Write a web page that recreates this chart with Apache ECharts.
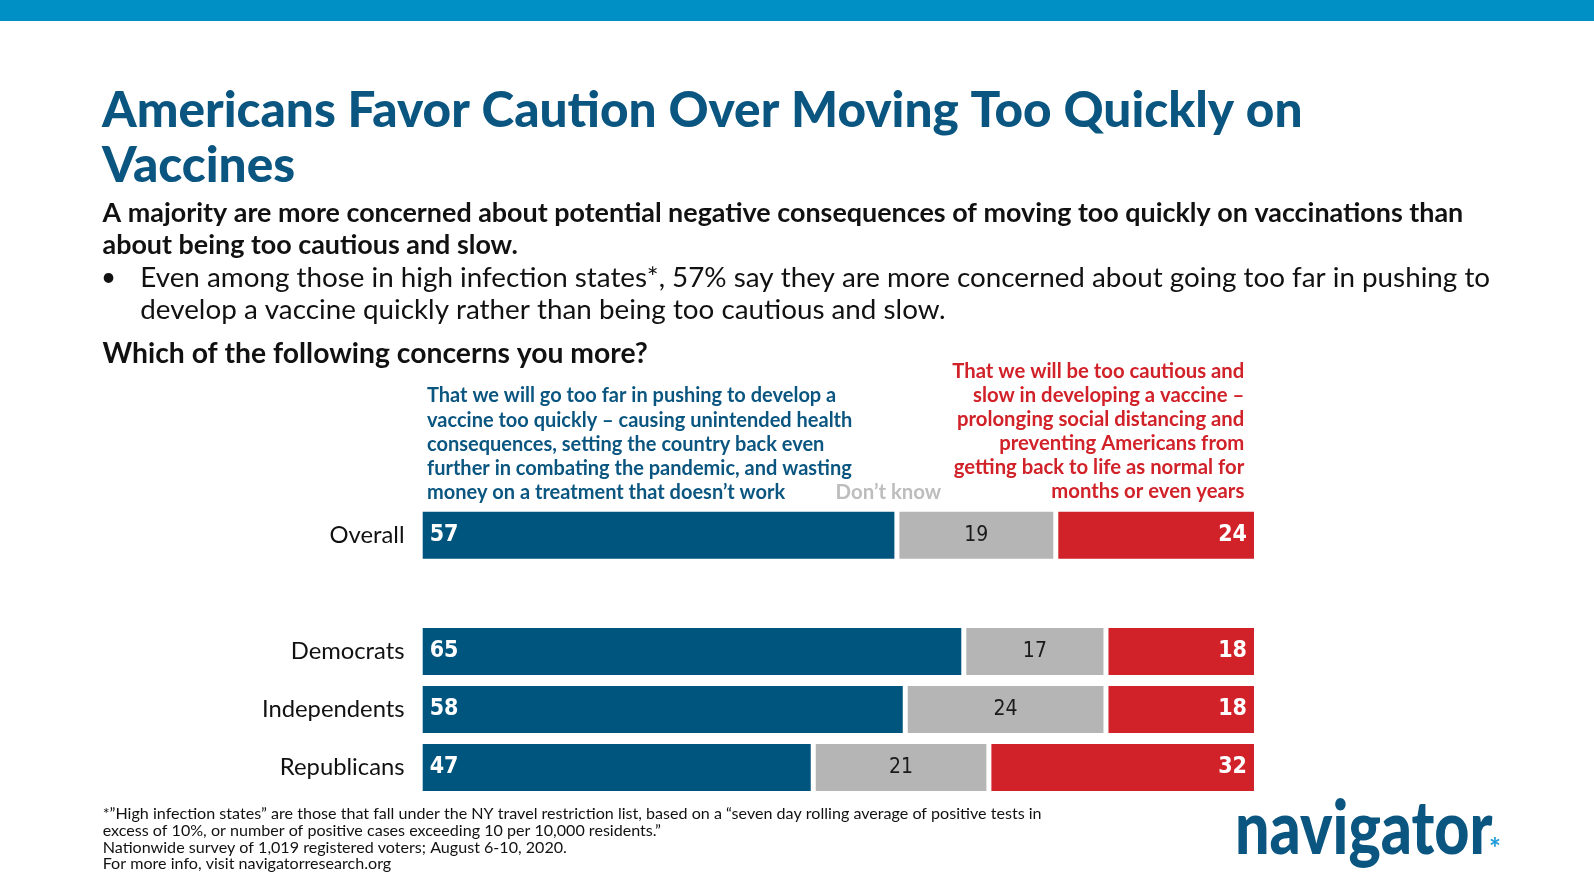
<!DOCTYPE html>
<html><head><meta charset="utf-8">
<script src="https://cdn.jsdelivr.net/npm/echarts@6/dist/echarts.min.js"></script>
<style>html,body{margin:0;padding:0;background:#fff}#c{width:1594px;height:895px}</style>
</head><body><div id="c"></div>
<script>
const categories = ['Overall', '', 'Democrats', 'Independents', 'Republicans'];
const goTooFar = [57, null, 65, 58, 47];
const dontKnow = [19, null, 17, 24, 21];
const tooCautious = [24, null, 18, 18, 32];
const seriesNames = ['Go too far', "Don't know", 'Too cautious'];

const titleLines = ['Americans Favor Caution Over Moving Too Quickly on', 'Vaccines'];
const subLines = ['A majority are more concerned about potential negative consequences of moving too quickly on vaccinations than', 'about being too cautious and slow.'];
const bulletLines = ['Even among those in high infection states*, 57% say they are more concerned about going too far in pushing to', 'develop a vaccine quickly rather than being too cautious and slow.'];
const question = 'Which of the following concerns you more?';
const blueNote = ['That we will go too far in pushing to develop a', 'vaccine too quickly \u2013 causing unintended health', 'consequences, setting the country back even', 'further in combating the pandemic, and wasting', 'money on a treatment that doesn\u2019t work'];
const redNote = ['That we will be too cautious and', 'slow in developing a vaccine \u2013', 'prolonging social distancing and', 'preventing Americans from', 'getting back to life as normal for', 'months or even years'];
const dkNote = 'Don\u2019t know';
const footLines = ['*\u201dHigh infection states\u201d are those that fall under the NY travel restriction list, based on a \u201cseven day rolling average of positive tests in', 'excess of 10%, or number of positive cases exceeding 10 per 10,000 residents.\u201d', 'Nationwide survey of 1,019 registered voters; August 6-10, 2020.', 'For more info, visit navigatorresearch.org'];

const BLUE = '#00557F', GRAY = '#B5B5B5', RED = '#D12129', TITLE = '#0B5680';
const COND = '"DejaVu Sans Condensed","Liberation Sans Narrow",sans-serif';

const g = [];
g.push({type: 'rect', shape: {x: 0, y: 0, width: 1594, height: 21}, style: {fill: '#0090C5'}});
function line(text, x, y, font, fill, align) {
  g.push({type: 'text', style: {text, x, y, font, fill, textAlign: align || 'left', textVerticalAlign: 'middle'}});
}
titleLines.forEach((t, i) => line(t, 102, 111.5 + i * 55, '900 49.5px Lato', TITLE));
subLines.forEach((t, i) => line(t, 102.5, 213 + i * 32.3, 'bold 26.9px Lato', '#111'));
line('\u2022', 101, 278, '26px Lato', '#111');
bulletLines.forEach((t, i) => line(t, 140.3, 278 + i * 31.8, '27.8px Lato', '#111'));
line(question, 102.5, 354, 'bold 28.3px Lato', '#111');
blueNote.forEach((t, i) => line(t, 427, 396 + i * 24.1, 'bold 20px Lato', TITLE));
redNote.forEach((t, i) => line(t, 1244.3, 371 + i * 24, 'bold 20.3px Lato', RED, 'right'));
line(dkNote, 835.6, 492.5, 'bold 20.4px Lato', '#BDBDBD');
footLines.forEach((t, i) => line(t, 102.7, 814 + i * 16.7, '16.1px Lato', '#111'));
g.push({type: 'text', x: 1235, y: 852, scaleY: 1.22,
  style: {text: 'navigator', x: 0, y: -18.3, font: '900 61px Lato', fill: '#0B5680', textVerticalAlign: 'middle'}});
line('*', 1495, 849, 'bold 28px Lato', '#1E9BD7', 'center');

const chart = echarts.init(document.getElementById('c'));
const common = {type: 'bar', stack: 'total', barWidth: 52};
chart.setOption({
  animation: false,
  grid: {left: 420.2, right: 1594 - 1256.5, top: 506.3, bottom: 895 - 796.5, containLabel: false},
  xAxis: {type: 'value', min: 0, max: 100, show: false},
  yAxis: {type: 'category', data: categories, inverse: true,
    axisLine: {show: false}, axisTick: {show: false},
    axisLabel: {color: '#111', fontSize: 23.8, fontFamily: 'Lato', margin: 15.6}},
  series: [
    Object.assign({}, common, {name: seriesNames[0], data: goTooFar,
      itemStyle: {color: BLUE, borderColor: '#fff', borderWidth: 2.5},
      label: {show: true, position: 'insideLeft', distance: 9.5, color: '#fff', fontSize: 23, fontWeight: 'bold', fontFamily: COND}}),
    Object.assign({}, common, {name: seriesNames[1], data: dontKnow,
      itemStyle: {color: GRAY, borderColor: '#fff', borderWidth: 2.5},
      label: {show: true, position: 'inside', color: '#1a1a1a', fontSize: 21, fontFamily: COND}}),
    Object.assign({}, common, {name: seriesNames[2], data: tooCautious,
      itemStyle: {color: RED, borderColor: '#fff', borderWidth: 2.5},
      label: {show: true, position: 'insideRight', distance: 9.5, color: '#fff', fontSize: 23, fontWeight: 'bold', fontFamily: COND}})
  ],
  graphic: g
});
</script></body></html>
